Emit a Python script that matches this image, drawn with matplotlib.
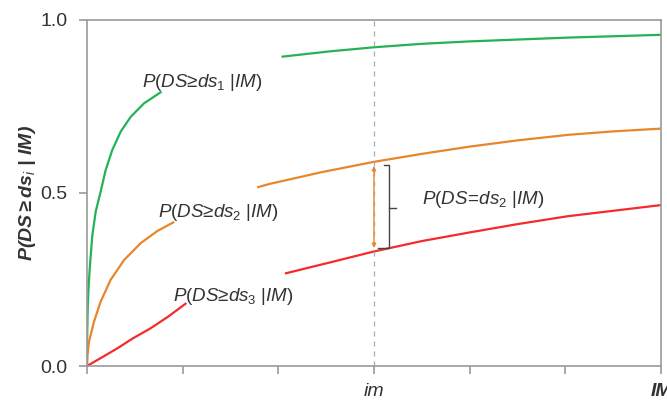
import numpy as np
import matplotlib
matplotlib.use('Agg')
import matplotlib.pyplot as plt

plt.rcParams['font.family'] = ['Liberation Sans', 'DejaVu Sans']
plt.rcParams['mathtext.fontset'] = 'custom'
plt.rcParams['mathtext.rm'] = 'Liberation Sans'
plt.rcParams['mathtext.it'] = 'Liberation Sans:italic'
plt.rcParams['mathtext.bf'] = 'Liberation Sans:italic:bold'

# Fragility curves (each drawn in two pieces,
# with a gap left for the label).
ds1_x1 = [0, 0.002, 0.008, 0.018, 0.031, 0.055, 0.091, 0.143, 0.195, 0.264,
          0.352, 0.457, 0.596, 0.77]
ds1_y1 = [0, 0.08, 0.17, 0.235, 0.29, 0.375, 0.446, 0.504, 0.566, 0.624,
          0.677, 0.72, 0.759, 0.791]
ds1_x2 = [2.045, 2.53, 3.0, 3.5, 4.0, 5.03, 6.0]
ds1_y2 = [0.894, 0.909, 0.921, 0.931, 0.938, 0.949, 0.957]

ds2_x1 = [0, 0.005, 0.021, 0.073, 0.143, 0.247, 0.387, 0.561, 0.735, 0.902]
ds2_y1 = [0, 0.03, 0.07, 0.128, 0.186, 0.249, 0.306, 0.355, 0.39, 0.415]
ds2_x2 = [1.79, 1.906, 2.45, 3.0, 3.5, 4.0, 4.5, 5.03, 5.5, 6.0]
ds2_y2 = [0.517, 0.526, 0.56, 0.59, 0.613, 0.634, 0.652, 0.668, 0.678, 0.686]

ds3_x1 = [0, 0.15, 0.317, 0.48, 0.665, 0.85, 1.03]
ds3_y1 = [0, 0.024, 0.051, 0.08, 0.109, 0.143, 0.18]
ds3_x2 = [2.08, 2.55, 3.0, 3.5, 4.0, 4.5, 5.03, 6.0]
ds3_y2 = [0.268, 0.3, 0.331, 0.361, 0.386, 0.41, 0.433, 0.465]

im = 3.0
x_ticks = [0, 1, 2, 3, 4, 5, 6]
x_labels = ['', '', '', 'im', '', '', 'IM']
y_ticks = [0.0, 0.5, 1.0]

green = '#25b256'
orange = '#e8862c'
red = '#f52a2a'
text_c = '#333333'
axis_c = '#9a9a9a'

fig = plt.figure(figsize=(6.67, 4.07), dpi=100)
ax = fig.add_axes([0.1304, 0.1007, 0.8606, 0.8503])

ax.plot(ds1_x1, ds1_y1, color=green, lw=1.6)
ax.plot(ds1_x2, ds1_y2, color=green, lw=1.6)
ax.plot(ds2_x1, ds2_y1, color=orange, lw=1.6)
ax.plot(ds2_x2, ds2_y2, color=orange, lw=1.6)
ax.plot(ds3_x1, ds3_y1, color=red, lw=1.6)
ax.plot(ds3_x2, ds3_y2, color=red, lw=1.6)

ax.axvline(im, color='#aaaaaa', lw=0.9, ls=(0, (4, 4)))

# Difference between ds2 and ds3 at im
y_top = np.interp(im, ds2_x2, ds2_y2)
y_bot = np.interp(im, ds3_x2, ds3_y2)
ax.annotate('', xy=(im, y_top - 0.012), xytext=(im, y_bot + 0.01),
            arrowprops=dict(arrowstyle='<|-|>', color=orange, lw=1.0,
                            mutation_scale=6, shrinkA=0, shrinkB=0))
bx = 3.155
ax.plot([3.1, bx, bx, 3.04], [y_top - 0.01, y_top - 0.01, y_bot + 0.01, y_bot + 0.01],
        color='#444444', lw=1.0)
ax.plot([bx, 3.235], [0.456, 0.456], color='#444444', lw=1.0)

fs = 13.5
ax.text(0.57, 0.82, r'$P(DS≥ds_1\ |IM)$', fontsize=fs, color=text_c, va='center')
ax.text(0.74, 0.445, r'$P(DS≥ds_2\ |IM)$', fontsize=fs, color=text_c, va='center')
ax.text(0.9, 0.2, r'$P(DS≥ds_3\ |IM)$', fontsize=fs, color=text_c, va='center')
ax.text(3.5, 0.48, r'$P(DS\!=\!ds_2\ |IM)$', fontsize=fs, color=text_c, va='center')

ax.set_xlim(0, 6)
ax.set_ylim(0, 1)
ax.set_xticks(x_ticks)
ax.set_xticklabels(x_labels)
ax.set_yticks(y_ticks)
ax.set_yticklabels(['%.1f' % v for v in y_ticks])
ax.tick_params(axis='both', colors=axis_c, labelcolor=text_c, length=6,
               width=1.2, labelsize=14)
ax.tick_params(axis='y', pad=8)
ax.tick_params(axis='x', pad=6)
xl = ax.get_xticklabels()
xl[3].set_style('italic')
xl[6].set_style('italic')
xl[6].set_weight('bold')
for s in ax.spines.values():
    s.set_color(axis_c)
    s.set_linewidth(1.2)

ax.set_ylabel(r'$\mathbf{P(DS \geq ds_{\it i}\ |\ IM)}$', fontsize=14, color=text_c,
              labelpad=2)

fig.savefig('out.png', dpi=100)
